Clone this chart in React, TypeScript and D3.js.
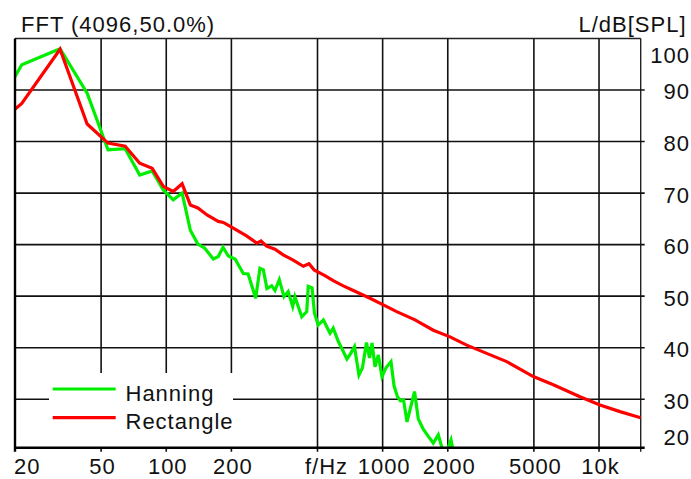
import React from "react";
import * as d3 from "d3";

// FFT level spectrum, two windows
const freqTicks = [20, 50, 100, 200, 500, 1000, 2000, 5000, 10000];
const freqLabels = ["20", "50", "100", "200", "f/Hz", "1000", "2000", "5000", "10k"];
const levelTicks = [20, 30, 40, 50, 60, 70, 80, 90, 100];

const hanningHz = [10.8, 21.5, 32.3, 43.1, 53.8, 64.6, 75.4, 86.1, 96.9, 107.7, 118.4, 129.2, 140, 150.7, 165, 174, 183, 193.5, 208, 227, 239, 259, 271, 281, 292, 307, 318, 333, 350, 366, 384, 393, 423, 446, 453, 472, 484, 504, 532, 551, 571, 591, 624, 647, 684, 710, 741, 777, 807, 842, 870, 893, 922, 955, 993, 1036, 1093, 1129, 1171, 1209, 1249, 1296, 1404, 1461, 1541, 1626, 1714, 1808, 1874, 1952, 2070, 2160, 2500];
const hanningDb = [73.2, 94.9, 98.0, 89.4, 78.4, 78.6, 73.5, 74.3, 70.6, 68.7, 70.0, 62.8, 60.1, 59.3, 57.2, 57.7, 59.5, 57.8, 57.2, 54.4, 54.3, 49.6, 55.4, 55.1, 51.5, 52.0, 51.1, 53.2, 49.9, 50.9, 48.0, 49.9, 46.0, 47.0, 51.9, 51.6, 46.7, 44.4, 45.4, 44.1, 42.8, 43.8, 41.2, 39.9, 37.8, 38.8, 40.2, 34.7, 36.1, 41.0, 38.0, 40.9, 36.3, 38.6, 34.4, 36.1, 37.3, 32.6, 30.5, 29.7, 29.9, 25.6, 31.5, 26.2, 24.2, 22.8, 21.5, 23.1, 20.8, 19.2, 22.1, 18.2, 14];

const rectangleHz = [10.8, 21.5, 32.3, 43.1, 53.8, 64.6, 75.4, 86.1, 96.9, 107.7, 118.4, 129.2, 140, 155, 174, 183.5, 204, 235, 262, 274, 291, 318, 347, 386, 430, 457, 482, 541, 591, 658, 732, 874, 1007, 1161, 1411, 1714, 2048, 2446, 3026, 3744, 4970, 6148, 8166, 10100, 12500, 15580];
const rectangleDb = [76.9, 87.4, 97.9, 83.4, 79.7, 79.1, 75.8, 74.8, 71.3, 70.3, 71.8, 67.7, 67.1, 65.7, 64.5, 64.3, 63.2, 61.7, 60.3, 60.7, 59.7, 59.1, 58.0, 57.0, 55.8, 56.3, 55.1, 54.0, 53.0, 52.0, 51.1, 49.6, 48.3, 47.0, 45.4, 43.4, 42.1, 40.5, 38.9, 37.3, 34.4, 32.8, 30.5, 28.9, 27.6, 26.4];

const W = 691;
const H = 479;
const left = 15, top = 38.45, right = 640.7, bottom = 447.7;
const font = "'Liberation Sans', Arial, sans-serif";

const App = () => {
  const x = d3.scaleLog().domain([20, 15580]).range([left, right]);
  const y = d3.scaleLinear().domain([20.6, 100]).range([bottom, top]);

  const line = d3.line<[number, number]>()
    .x(d => x(d[0]))
    .y(d => y(d[1]));

  const hanning = hanningHz.map((f, i) => [f, hanningDb[i]] as [number, number]);
  const rectangle = rectangleHz.map((f, i) => [f, rectangleDb[i]] as [number, number]);

  const txt = { fontFamily: font, fontSize: 22, letterSpacing: 1, fill: "#111" };

  return (
    <svg width={W} height={H} style={{ position: "absolute", left: 0, top: 0, background: "#fff" }}>
      <defs>
        <clipPath id="plotClip">
          <rect x={left} y={top} width={right - left} height={bottom - top} />
        </clipPath>
      </defs>
      <rect width={W} height={H} fill="#fff" />

      {/* grid */}
      {freqTicks.slice(1).map(f => (
        <line key={"v" + f} x1={x(f)} x2={x(f)} y1={top} y2={bottom + 4} stroke="#111" strokeWidth={1.6} />
      ))}
      <line x1={right} x2={right} y1={top} y2={bottom + 4} stroke="#222" strokeWidth={1.4} />
      {levelTicks.slice(1, -1).map(v => (
        <line key={"h" + v} x1={left} x2={right + 4} y1={y(v)} y2={y(v)} stroke="#111" strokeWidth={1.6} />
      ))}
      <line x1={left} x2={right} y1={top} y2={top} stroke="#222" strokeWidth={1.4} />

      {/* curves */}
      <g clipPath="url(#plotClip)" fill="none" strokeWidth={3.2} strokeLinejoin="miter">
        <path d={line(hanning) || ""} stroke="#00ee00" />
        <path d={line(rectangle) || ""} stroke="#ff0000" />
      </g>

      {/* legend */}
      <rect x={49} y={373} width={184} height={bottom - 373} fill="#fff" />
      <line x1={52.7} x2={115.7} y1={389} y2={389} stroke="#00ee00" strokeWidth={3.2} />
      <line x1={52.7} x2={115.7} y1={417.7} y2={417.7} stroke="#ff0000" strokeWidth={3.2} />
      <text x={125.5} y={401} style={txt}>Hanning</text>
      <text x={125.5} y={429} style={txt}>Rectangle</text>

      {/* axes */}
      <line x1={left} x2={left} y1={top} y2={bottom + 4} stroke="#000" strokeWidth={2.4} />
      <line x1={left} x2={right + 4} y1={bottom} y2={bottom} stroke="#000" strokeWidth={2.4} />

      {freqTicks.map((f, i) => {
        const lab = freqLabels[i];
        if (i === 0) return <text key={lab} x={left - 1} y={474} style={txt}>{lab}</text>;
        if (lab === "f/Hz") return <text key={lab} x={x(f) + 9} y={474} textAnchor="middle" style={txt}>{lab}</text>;
        return <text key={lab} x={x(f) + 1.5} y={474} textAnchor="middle" style={txt}>{lab}</text>;
      })}

      {levelTicks.map(v => {
        const cy = Math.min(Math.max(y(v) + 1.5, top + 17), bottom - 11);
        return <text key={"l" + v} x={690} y={cy + 8} textAnchor="end" style={txt}>{v}</text>;
      })}

      <text x={21} y={32} style={txt}>FFT (4096,50.0%)</text>
      <text x={578.5} y={32} style={txt}>L/dB[SPL]</text>
    </svg>
  );
};

export default App;
